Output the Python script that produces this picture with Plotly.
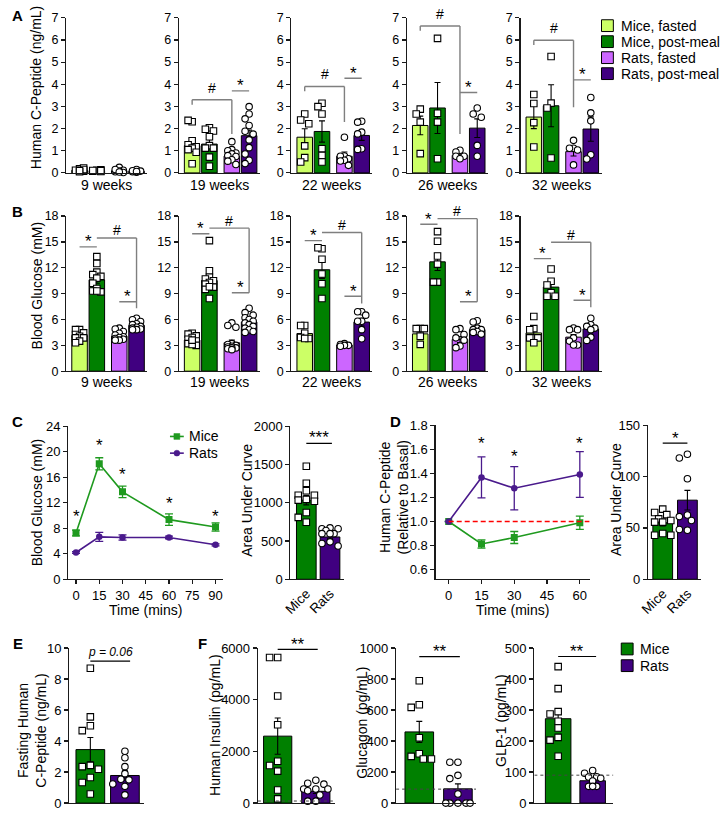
import math
import plotly.graph_objects as go

W, H = 720, 816
FONT = "Arial, 'Liberation Sans', Helvetica, sans-serif"

# ======================= DATA =======================
GROUPS = ["Mice, fasted", "Mice, post-meal", "Rats, fasted", "Rats, post-meal"]
WEEKS = ["9 weeks", "19 weeks", "22 weeks", "26 weeks", "32 weeks"]

# Panel A - Human C-peptide (ng/mL): mean / SEM per week, groups in GROUPS order
A_MEAN = [[0.12, 0.10, 0.09, 0.07],
          [1.23, 1.30, 0.76, 1.68],
          [1.61, 1.87, 0.75, 1.69],
          [2.14, 2.93, 0.79, 2.02],
          [2.52, 3.03, 0.96, 1.98]]
A_SEM = [[0.02, 0.02, 0.03, 0.02],
         [0.22, 0.20, 0.10, 0.25],
         [0.38, 0.48, 0.19, 0.22],
         [0.42, 1.15, 0.07, 0.42],
         [0.52, 0.95, 0.20, 0.55]]
A_PTS_09 = [[0.18, 0.12, 0.22, 0.08, 0.15, 0.05, 0.10],
            [0.12, 0.08, 0.14, 0.06, 0.10, 0.11],
            [0.25, 0.05, 0.12, 0.08, 0.02, 0.15, 0.04],
            [0.15, 0.05, 0.08, 0.03, 0.10, 0.06]]
A_PTS_19 = [[2.31, 2.37, 1.45, 1.27, 1.18, 1.12, 1.05, 0.93, 0.41],
            [2.04, 1.97, 1.89, 1.63, 1.23, 1.12, 1.12, 0.71, 0.30],
            [1.41, 1.05, 1.00, 0.90, 0.86, 0.78, 0.74, 0.59, 0.53, 0.38],
            [2.99, 2.66, 2.44, 2.14, 1.88, 1.75, 1.49, 1.14, 0.85, 0.57, 0.42]]
A_PTS_22 = [[2.66, 2.39, 2.22, 1.22, 0.69, 0.49],
            [3.14, 2.99, 2.66, 1.09, 0.79, 0.49],
            [1.61, 0.76, 0.75, 0.64, 0.57, 0.54, 0.34],
            [2.33, 2.29, 1.84, 1.76, 1.09, 1.06]]
A_PTS_26 = [[2.88, 2.66, 2.29, 0.87],
            [6.07, 2.69, 2.29, 0.64],
            [1.02, 0.94, 0.75, 0.75, 0.64],
            [2.93, 2.66, 2.51, 1.24, 0.75]]
A_PTS_32 = [[3.54, 3.13, 2.27, 1.17],
            [5.25, 3.15, 2.93, 0.67],
            [1.47, 1.11, 1.11, 1.03, 0.36],
            [3.40, 2.71, 2.35, 0.82, 0.63]]
A_PTS = [A_PTS_09, A_PTS_19, A_PTS_22, A_PTS_26, A_PTS_32]
A_TICKS = [0, 1, 2, 3, 4, 5, 6, 7]

# Panel B - Blood glucose (mM)
B_MEAN = [[4.14, 10.60, 4.06, 5.32],
          [3.61, 10.52, 3.30, 5.70],
          [4.37, 11.77, 3.04, 5.70],
          [4.33, 12.69, 3.68, 4.82],
          [4.44, 9.76, 3.95, 4.90]]
B_SEM = [[0.18, 0.40, 0.15, 0.15],
         [0.17, 0.50, 0.30, 0.25],
         [0.30, 1.00, 0.08, 0.45],
         [0.35, 1.00, 0.35, 0.22],
         [0.45, 0.50, 0.30, 0.35]]
B_PTS_09 = [[4.82, 4.82, 4.44, 4.25, 4.06, 3.87, 3.87, 3.49, 3.30],
            [13.3, 12.5, 11.5, 11.2, 11.0, 10.8, 10.2, 9.6, 9.3, 9.2, 9.3],
            [5.0, 4.9, 4.6, 4.4, 4.2, 4.0, 3.9, 3.8, 3.7, 3.6, 3.6],
            [6.15, 5.96, 5.77, 5.5, 5.4, 5.2, 5.1, 5.0, 4.9, 4.82, 4.8]]
B_PTS_19 = [[4.4, 4.3, 4.1, 3.9, 3.7, 3.5, 3.4, 3.2, 3.0, 3.1, 3.6],
            [15.15, 11.66, 10.9, 10.7, 10.5, 10.3, 10.1, 9.76, 9.49, 8.43, 9.8],
            [5.6, 5.3, 5.1, 3.2, 3.1, 3.0, 2.9, 2.8, 2.7, 2.7, 2.6, 2.5],
            [7.3, 6.8, 6.5, 6.2, 6.0, 5.8, 5.6, 5.4, 5.2, 5.0, 4.8, 4.6, 4.5]]
B_PTS_22 = [[5.3, 5.3, 4.4, 3.9, 3.8, 3.8],
            [14.2, 14.32, 12.99, 11.28, 10.14, 8.43],
            [3.2, 3.1, 3.0, 3.0, 2.9],
            [6.9, 6.9, 6.5, 5.8, 5.8, 4.82, 3.76]]
B_PTS_26 = [[4.94, 4.94, 4.94, 4.06, 3.11],
            [16.2, 15.08, 13.37, 12.42, 10.33, 10.33],
            [4.94, 4.82, 4.25, 3.87, 3.6, 2.92, 2.73],
            [5.85, 5.7, 5.0, 4.82, 4.82, 4.6, 4.5, 4.3]]
B_PTS_32 = [[6.34, 4.94, 4.8, 3.87, 3.87, 3.87, 3.3],
            [11.85, 10.44, 10.0, 9.1, 8.7, 8.7],
            [5.01, 4.82, 4.82, 3.87, 3.49, 3.04, 3.04],
            [6.15, 5.39, 5.2, 5.0, 4.82, 3.95, 3.57]]
B_PTS = [B_PTS_09, B_PTS_19, B_PTS_22, B_PTS_26, B_PTS_32]
B_TICKS = [0, 3, 6, 9, 12, 15, 18]

# Panel C - glucose tolerance
GTT_TIME = [0, 15, 30, 60, 90]
GTT_MICE = [7.25, 18.1, 13.7, 9.35, 8.2]
GTT_MICE_SEM = [0.45, 0.95, 0.9, 0.9, 0.65]
GTT_RATS = [4.2, 6.65, 6.55, 6.55, 5.4]
GTT_RATS_SEM = [0.15, 0.7, 0.4, 0.2, 0.15]
GTT_SIG = ["*", "*", "*", "*", "*"]
GTT_X_TICKS = [0, 15, 30, 45, 60, 75, 90]
GTT_Y_TICKS = [0, 4, 8, 12, 16, 20, 24]
AUC_C_MEAN = [1034, 553]
AUC_C_SEM = [62, 25]
AUC_C_MICE = [1477, 1255, 1157, 1098, 1098, 1043, 1034, 1020, 872, 809, 745]
AUC_C_RATS = [672, 660, 660, 638, 596, 596, 596, 489, 468, 434]
AUC_C_TICKS = [0, 500, 1000, 1500, 2000]

# Panel D - C-peptide relative to basal
CP_TIME = [0, 15, 30, 60]
CP_MICE = [1.0, 0.813, 0.867, 0.99]
CP_MICE_SEM = [0.0, 0.035, 0.05, 0.055]
CP_RATS = [1.0, 1.366, 1.276, 1.391]
CP_RATS_SEM = [0.0, 0.17, 0.18, 0.19]
CP_SIG = ["", "*", "*", "*"]
CP_X_TICKS = [0, 15, 30, 45, 60]
CP_Y_TICKS = [0.6, 0.8, 1.0, 1.2, 1.4, 1.6, 1.8]
AUC_D_MEAN = [55, 77]
AUC_D_SEM = [3.2, 9.5]
AUC_D_MICE = [68.3, 65, 62.9, 58.8, 57.2, 55.6, 55.6, 44.5, 42.9, 42.9]
AUC_D_RATS = [121.7, 118, 97.9, 62.6, 61, 57.2, 47.7, 48.5]
AUC_D_TICKS = [0, 50, 100, 150]

# Panel E - fasting human C-peptide (ng/mL)
FCP_MEAN = [3.45, 1.78]
FCP_SEM = [0.78, 0.30]
FCP_MICE = [8.69, 5.56, 4.99, 4.67, 2.43, 2.35, 2.18, 1.65, 1.33, 0.59]
FCP_RATS = [3.34, 2.92, 2.35, 1.9, 1.54, 1.5, 1.23, 1.08, 0.53]
FCP_TICKS = [0, 2, 4, 6, 8, 10]

# Panel F - hormones (pg/mL)
INS_MEAN = [2590, 455]
INS_SEM = [700, 85]
INS_MICE = [5634, 5634, 4143, 3032, 1617, 1453, 1238, 505, 164]
INS_RATS = [884, 770, 733, 543, 543, 543, 480, 316, 76, 76]
INS_TICKS = [0, 2000, 4000, 6000]
GCG_MEAN = [459, 92]
GCG_SEM = [68, 32]
GCG_MICE = [789, 634, 617, 421, 318, 301, 284, 284]
GCG_RATS = [263, 263, 179, 158, 59, 0, 0, 0, 0, 0]
GCG_TICKS = [0, 200, 400, 600, 800, 1000]
GLP_MEAN = [272, 72]
GLP_SEM = [30, 6]
GLP_MICE = [440, 369, 295, 287, 264, 242, 212, 203, 151]
GLP_RATS = [105, 96, 85, 84, 80, 71, 54, 54, 54]
GLP_TICKS = [0, 100, 200, 300, 400, 500]
DETECTION_LIMIT = [80, 90, 90]

# ======================= STYLE =======================
C_MF, C_MP, C_RF, C_RP = "#ccff66", "#008000", "#cc66ff", "#400080"
GROUP_COLORS = [C_MF, C_MP, C_RF, C_RP]
GROUP_SYMBOLS = ["square", "square", "circle", "circle"]
LINE_MICE, LINE_RATS = "#1f9a1f", "#4a1a8c"
AX = "#1a1a1a"
BRK = "#7f7f7f"

fig = go.Figure()
annotations = []
shapes = []


def px(x):
    return x / W


def py(y):
    return 1 - y / H


AXES = []


def new_axes(xpx, ypx, xr, yr, yticks, xtick=None, tickfont=12.5, yfmt=None):
    n = len(AXES) + 1
    s = "" if n == 1 else str(n)
    xa = dict(domain=[px(xpx[0]), px(xpx[1])], range=xr, anchor="y" + s,
              showgrid=False, zeroline=False, showline=True, linecolor=AX,
              linewidth=1.2, fixedrange=True)
    if xtick is None:
        xa.update(ticks="", showticklabels=False)
    else:
        xa.update(xtick)
    ya = dict(domain=[py(ypx[1]), py(ypx[0])], range=yr, anchor="x" + s,
              showgrid=False, zeroline=False, showline=True, linecolor=AX,
              linewidth=1.2, ticks="outside", ticklen=4, tickwidth=1.2,
              tickcolor=AX, tickfont=dict(size=tickfont, color="black"),
              tickmode="array", tickvals=yticks, fixedrange=True)
    if yfmt:
        ya["tickformat"] = yfmt
    fig.update_layout(**{"xaxis" + s: xa, "yaxis" + s: ya})
    info = dict(x="x" + s, y="y" + s,
                ppx=(xpx[1] - xpx[0]) / (xr[1] - xr[0]),
                ppy=(ypx[1] - ypx[0]) / (yr[1] - yr[0]))
    AXES.append(info)
    return info


def swarm(vals, ppx, ppy, halfw_px, d=6.6):
    step = d * 0.62
    cands = [0.0]
    k = 1
    while k * step <= halfw_px + 0.01:
        cands += [-k * step, k * step]
        k += 1
    placed, offs = [], []
    for v in vals:
        yy = v * ppy
        best, bestd = 0.0, -1.0
        for c in cands:
            md = min((math.hypot(c - a, yy - b) for a, b in placed), default=1e9)
            if md >= d:
                best = c
                break
            if md > bestd:
                bestd, best = md, c
        placed.append((best, yy))
        offs.append(best / ppx)
    return offs


def bar_group(ax, positions, means, sems, pts, colors, symbols, width, msize=6.5):
    for p, m, s, c in zip(positions, means, sems, colors):
        fig.add_trace(go.Bar(
            x=[p], y=[m], width=[width], xaxis=ax["x"], yaxis=ax["y"],
            marker=dict(color=c, line=dict(color="black", width=1)),
            error_y=dict(type="data", array=[s], color="black", thickness=1.1, width=3),
            showlegend=False, hoverinfo="skip"))
    for p, vals, sym in zip(positions, pts, symbols):
        offs = swarm(vals, ax["ppx"], ax["ppy"], width * ax["ppx"] / 2 - 1.5)
        fig.add_trace(go.Scatter(
            x=[p + o for o in offs], y=vals, mode="markers",
            xaxis=ax["x"], yaxis=ax["y"],
            marker=dict(symbol=sym, size=msize, color="white",
                        line=dict(color="black", width=1.1)),
            cliponaxis=False, showlegend=False, hoverinfo="skip"))


def hline(ax, x0, x1, y, color=BRK, w=1.4, dash=None, layer="above"):
    ln = dict(color=color, width=w)
    if dash:
        ln["dash"] = dash
    shapes.append(dict(type="line", xref=ax["x"], yref=ax["y"], x0=x0, x1=x1,
                       y0=y, y1=y, line=ln, layer=layer))


def vline(ax, x, y0, y1, color=BRK, w=1.4):
    shapes.append(dict(type="line", xref=ax["x"], yref=ax["y"], x0=x, x1=x,
                       y0=y0, y1=y1, line=dict(color=color, width=w)))


def dtext(ax, x, y, t, size=17, yshift=0, italic=False):
    annotations.append(dict(xref=ax["x"], yref=ax["y"], x=x, y=y, text=t,
                            showarrow=False, xanchor="center", yanchor="middle",
                            yshift=yshift,
                            font=dict(size=size, color="black", family=FONT,
                                      style="italic" if italic else "normal")))


def ptext(x, y, t, size=13.5, angle=0, xanchor="center", bold=False):
    annotations.append(dict(xref="paper", yref="paper", x=px(x), y=py(y),
                            text=("<b>%s</b>" % t) if bold else t,
                            showarrow=False, xanchor=xanchor, yanchor="middle",
                            textangle=angle,
                            font=dict(size=size, color="black", family=FONT)))


# ======================= PANELS A & B =======================
POS4 = [0, 1, 2.3, 3.3]
XR4 = [-0.77, 3.92]
BW4 = 0.9
COLS_X = [(58, 140), (172, 254), (286, 368), (403, 485), (518, 600)]
A_Y = (11, 169)
B_Y = (213, 371)

A_BRK = [None, (3.30, 1.75, 3.70), (3.90, 2.30, 4.27), (6.63, 1.75, 3.63), (5.99, 2.96, 4.20)]
B_BRK = [(14.43, 15.46, 7.29, 8.05), (15.95, 16.6, 9.1, 9.1), (15.15, 16.1, 7.86, 8.7),
         (17.05, 17.7, 8.05, 8.05), (13.06, 14.96, 7.41, 8.24)]

for i, (x0, x1) in enumerate(COLS_X):
    ax = new_axes((x0, x1), A_Y, XR4, [0, 7], A_TICKS)
    bar_group(ax, POS4, A_MEAN[i], A_SEM[i], A_PTS[i], GROUP_COLORS, GROUP_SYMBOLS, BW4)
    ptext((x0 + x1) / 2, 181, WEEKS[i], size=14)
    if A_BRK[i]:
        hy, hd, sy = A_BRK[i]
        hline(ax, POS4[0], POS4[2], hy)
        vline(ax, POS4[0], hy, hy - 0.22)
        vline(ax, POS4[2], hy, hd)
        dtext(ax, (POS4[0] + POS4[2]) / 2, hy, "#", size=14, yshift=12)
        hline(ax, POS4[2], POS4[3], sy)
        dtext(ax, (POS4[2] + POS4[3]) / 2, sy, "*", size=17, yshift=5)

for i, (x0, x1) in enumerate(COLS_X):
    ax = new_axes((x0, x1), B_Y, XR4, [0, 18], B_TICKS)
    bar_group(ax, POS4, B_MEAN[i], B_SEM[i], B_PTS[i], GROUP_COLORS, GROUP_SYMBOLS, BW4)
    ptext((x0 + x1) / 2, 382, WEEKS[i], size=14)
    us, hy, hd, ls = B_BRK[i]
    hline(ax, POS4[0], POS4[1], us)
    dtext(ax, (POS4[0] + POS4[1]) / 2, us, "*", size=17, yshift=5)
    hline(ax, POS4[1], POS4[3], hy)
    vline(ax, POS4[3], hy, hd)
    dtext(ax, 2.15, hy, "#", size=14, yshift=7.5)
    hline(ax, POS4[2], POS4[3], ls)
    dtext(ax, (POS4[2] + POS4[3]) / 2, ls, "*", size=17, yshift=5)

ptext(28, 82, "Human C-Peptide (ng/mL)", size=14, angle=-90)
ptext(28, 284, "Blood Glucose (mM)", size=14, angle=-90)
ptext(9, 9, "A", size=15, bold=True)
ptext(9, 208, "B", size=15, bold=True)

# legend A
for j, (g, c) in enumerate(zip(GROUPS, GROUP_COLORS)):
    yc = 19 + j * 16.3
    shapes.append(dict(type="rect", xref="paper", yref="paper",
                       x0=px(600), x1=px(612), y0=py(yc + 6), y1=py(yc - 6),
                       fillcolor=c, line=dict(color="black", width=1)))
    ptext(618, yc, g, size=14, xanchor="left")

# ======================= PANEL C =======================
XT_LINE = dict(ticks="outside", ticklen=4, tickwidth=1.2, tickcolor=AX,
               showticklabels=True, tickfont=dict(size=13, color="black"))
axc = new_axes((60, 217), (427, 583), [-5, 95], [0, 24], GTT_Y_TICKS,
               xtick=dict(XT_LINE, tickmode="array", tickvals=GTT_X_TICKS), tickfont=13)
fig.add_trace(go.Scatter(x=GTT_TIME, y=GTT_RATS, mode="lines+markers",
                         xaxis=axc["x"], yaxis=axc["y"],
                         line=dict(color=LINE_RATS, width=1.6),
                         marker=dict(symbol="circle", size=6.5, color=LINE_RATS),
                         error_y=dict(type="data", array=GTT_RATS_SEM, color=LINE_RATS,
                                      thickness=1.3, width=4),
                         showlegend=False, hoverinfo="skip"))
fig.add_trace(go.Scatter(x=GTT_TIME, y=GTT_MICE, mode="lines+markers",
                         xaxis=axc["x"], yaxis=axc["y"],
                         line=dict(color=LINE_MICE, width=1.6),
                         marker=dict(symbol="square", size=7, color=LINE_MICE),
                         error_y=dict(type="data", array=GTT_MICE_SEM, color=LINE_MICE,
                                      thickness=1.3, width=4),
                         showlegend=False, hoverinfo="skip"))
GTT_STAR_Y = [10.3, 21.4, 16.85, 12.3, 10.3]
for t, s, yy in zip(GTT_TIME, GTT_SIG, GTT_STAR_Y):
    if s:
        dtext(axc, t, yy, s, size=17, yshift=-3)
ptext(28, 505, "Blood Glucose (mM)", size=14, angle=-90)
ptext(138.5, 614, "Time (mins)", size=14)
ptext(9, 422, "C", size=15, bold=True)
# legend C
for yc, col, sym, lab in [(437.5, LINE_MICE, "rect", "Mice"), (454.5, LINE_RATS, "circle", "Rats")]:
    shapes.append(dict(type="line", xref="paper", yref="paper", x0=px(163), x1=px(177),
                       y0=py(yc), y1=py(yc), line=dict(color=col, width=1.6)))
    shapes.append(dict(type=sym, xref="paper", yref="paper", x0=px(167), x1=px(173),
                       y0=py(yc + 3), y1=py(yc - 3), fillcolor=col, line=dict(color=col, width=0.5)))
    ptext(180, yc, lab, size=14, xanchor="left")

XT_CAT = dict(ticks="", showticklabels=True, tickmode="array", tickvals=[0, 1],
              ticktext=["Mice", "Rats"], tickangle=-45, tickfont=dict(size=13.5, color="black"))
axca = new_axes((285, 339), (427, 583), [-0.67, 1.58], [0, 2000], AUC_C_TICKS,
                xtick=XT_CAT, tickfont=13)
bar_group(axca, [0, 1], AUC_C_MEAN, AUC_C_SEM, [AUC_C_MICE, AUC_C_RATS],
          [C_MP, C_RP], ["square", "circle"], 0.83)
hline(axca, 0, 1.08, 1774, color="black", w=1.2)
dtext(axca, 0.54, 1774, "***", size=17, yshift=6)
ptext(241, 502, "Area Under Curve", size=14, angle=-90)

# ======================= PANEL D =======================
axd = new_axes((432, 588), (426, 583), [-6, 64.5], [0.52, 1.8], CP_Y_TICKS,
               xtick=dict(XT_LINE, tickmode="array", tickvals=CP_X_TICKS), tickfont=13,
               yfmt=".1f")
hline(axd, 0, 64.5, 1.0, color="red", w=1.3, dash="5px,3px", layer="above")
fig.add_trace(go.Scatter(x=CP_TIME, y=CP_MICE, mode="lines+markers",
                         xaxis=axd["x"], yaxis=axd["y"],
                         line=dict(color=LINE_MICE, width=1.6),
                         marker=dict(symbol="square", size=7, color=LINE_MICE),
                         error_y=dict(type="data", array=CP_MICE_SEM, color=LINE_MICE,
                                      thickness=1.3, width=4),
                         showlegend=False, hoverinfo="skip"))
fig.add_trace(go.Scatter(x=CP_TIME, y=CP_RATS, mode="lines+markers",
                         xaxis=axd["x"], yaxis=axd["y"],
                         line=dict(color=LINE_RATS, width=1.6),
                         marker=dict(symbol="circle", size=6.5, color=LINE_RATS),
                         error_y=dict(type="data", array=CP_RATS_SEM, color=LINE_RATS,
                                      thickness=1.3, width=4),
                         showlegend=False, hoverinfo="skip"))
CP_STAR_Y = [0, 1.672, 1.563, 1.672]
for t, s, yy in zip(CP_TIME, CP_SIG, CP_STAR_Y):
    if s:
        dtext(axd, t, yy, s, size=17, yshift=-3)
ptext(389.5, 500, "Human C-Peptide<br>(Relative to Basal)", size=14, angle=-90)
ptext(510, 614, "Time (mins)", size=14)
ptext(391, 422, "D", size=15, bold=True)

axda = new_axes((647, 701), (426, 583), [-0.6, 1.56], [0, 150], AUC_D_TICKS,
                xtick=XT_CAT, tickfont=13)
bar_group(axda, [0, 1], AUC_D_MEAN, AUC_D_SEM, [AUC_D_MICE, AUC_D_RATS],
          [C_MP, C_RP], ["square", "circle"], 0.8)
hline(axda, 0, 1.0, 132.5, color="black", w=1.2)
dtext(axda, 0.5, 132.5, "*", size=17, yshift=5)
ptext(614, 502, "Area Under Curve", size=14, angle=-90)

# ======================= PANEL E =======================
axe = new_axes((61, 137), (653, 811), [-0.61, 1.56], [0, 10], FCP_TICKS, tickfont=13)
bar_group(axe, [0, 1], FCP_MEAN, FCP_SEM, [FCP_MICE, FCP_RATS],
          [C_MP, C_RP], ["square", "circle"], 0.83)
hline(axe, 0, 1.15, 9.15, color="black", w=1.2)
dtext(axe, 0.57, 9.15, "p = 0.06", size=12, yshift=9, italic=True)
ptext(23.5, 737, "Fasting Human<br>C-Peptide (ng/mL)", size=14, angle=-90)
ptext(9, 648, "E", size=15, bold=True)

# ======================= PANEL F =======================
F_SPECS = [((252, 330), [-0.52, 1.5], [0, 6000], INS_TICKS, INS_MEAN, INS_SEM, INS_MICE, INS_RATS,
            5947, 1.05, 208, 731, "Human Insulin (pg/mL)"),
           ((392, 473), [-0.6, 1.47], [0, 1000], GCG_TICKS, GCG_MEAN, GCG_SEM, GCG_MICE, GCG_RATS,
            945, 1.05, 357.5, 729, "Glucagon (pg/mL)"),
           ((532, 612), [-0.69, 1.6], [0, 500], GLP_TICKS, GLP_MEAN, GLP_SEM, GLP_MICE, GLP_RATS,
            472.6, 1.1, 497.5, 727, "GLP-1 (pg/mL)")]
for k, (xp, xr, yr, yt, mn, se, pm, pr, sy, sx1, tx, ty, title) in enumerate(F_SPECS):
    axf = new_axes(xp, (653, 811), xr, yr, yt, tickfont=13)
    bar_group(axf, [0, 1], mn, se, [pm, pr], [C_MP, C_RP], ["square", "circle"], 0.74)
    hline(axf, xr[0], xr[1], DETECTION_LIMIT[k], color="#444444", w=1, dash="dot")
    hline(axf, 0, sx1, sy, color="black", w=1.2)
    dtext(axf, sx1 / 2, sy, "**", size=17, yshift=5)
    ptext(tx, ty, title, size=14, angle=-90)
ptext(196, 648, "F", size=15, bold=True)
# legend F
for j, (lab, c) in enumerate([("Mice", C_MP), ("Rats", C_RP)]):
    yc = 654 + j * 17
    shapes.append(dict(type="rect", xref="paper", yref="paper",
                       x0=px(620), x1=px(632), y0=py(yc + 6), y1=py(yc - 6),
                       fillcolor=c, line=dict(color="black", width=1)))
    ptext(637, yc, lab, size=14, xanchor="left")

fig.update_layout(width=W, height=H, margin=dict(l=0, r=0, t=0, b=0),
                  paper_bgcolor="white", plot_bgcolor="rgba(0,0,0,0)",
                  barmode="overlay", showlegend=False,
                  font=dict(family=FONT, color="black"),
                  annotations=annotations, shapes=shapes)
fig.write_html("out.html",
               config={"displayModeBar": False, "staticPlot": True},
               post_script="document.body.style.margin='0px';"
                           "document.body.style.padding='0px';"
                           "document.body.style.overflow='hidden';")
